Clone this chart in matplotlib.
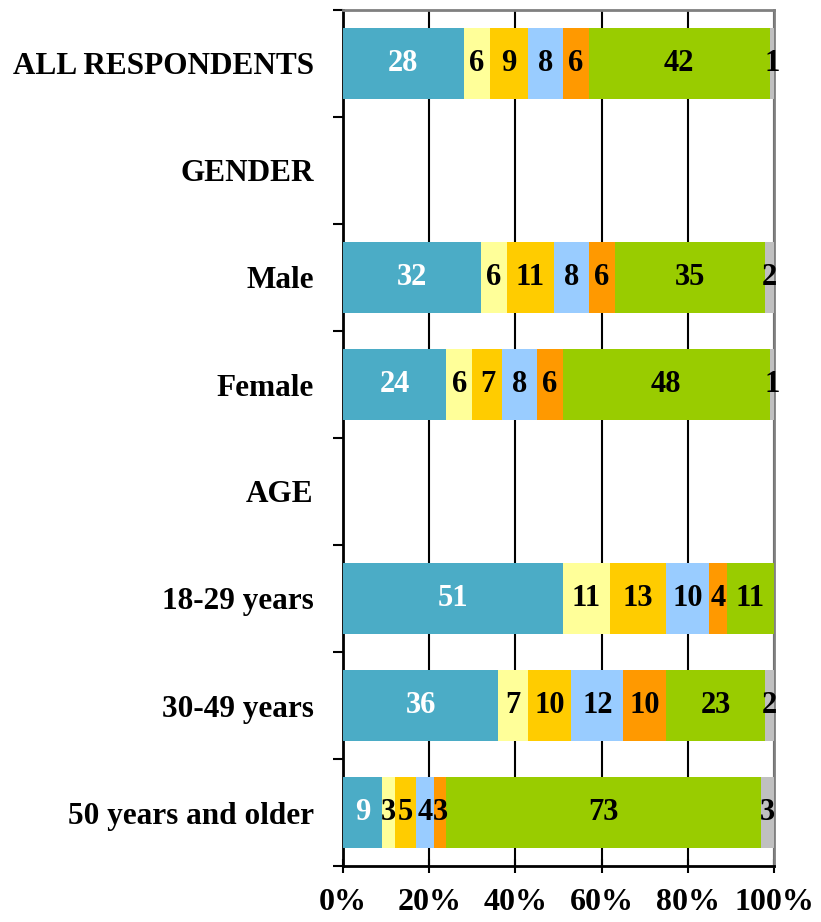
import matplotlib.pyplot as plt
import numpy as np

# categories top to bottom ("GENDER"/"AGE" are section headers without bars)
categories = ["ALL RESPONDENTS", "GENDER", "Male", "Female", "AGE",
              "18-29 years", "30-49 years", "50 years and older"]
has_bar = [True, False, True, True, False, True, True, True]

# segment values per row (percent)
seg1 = [28, 0, 32, 24, 0, 51, 36, 9]
seg2 = [6, 0, 6, 6, 0, 11, 7, 3]
seg3 = [9, 0, 11, 7, 0, 13, 10, 5]
seg4 = [8, 0, 8, 8, 0, 10, 12, 4]
seg5 = [6, 0, 6, 6, 0, 4, 10, 3]
seg6 = [42, 0, 35, 48, 0, 11, 23, 73]
seg7 = [1, 0, 2, 1, 0, 0, 2, 3]

xticks = [0, 20, 40, 60, 80, 100]
xticklabels = ["0%", "20%", "40%", "60%", "80%", "100%"]

colors = ["#4BACC6", "#FFFF99", "#FFCC00", "#99CCFF", "#FF9900", "#99CC00", "#C0C0C0"]
text_colors = ["white", "black", "black", "black", "black", "black", "black"]

plt.rcParams['font.family'] = ['Liberation Serif', 'DejaVu Serif']
plt.rcParams['font.weight'] = 'bold'

fig = plt.figure(figsize=(8.21, 9.22), dpi=100)
ax = fig.add_axes([343 / 821, 1 - 866 / 922, 431 / 821, 856 / 922])

series = [seg1, seg2, seg3, seg4, seg5, seg6, seg7]
data = np.array(series, dtype=float)
totals = data.sum(axis=0)
totals[totals == 0] = 1
pct = data / totals * 100

n = len(categories)
y = np.arange(n)
left = np.zeros(n)
for i in range(len(series)):
    ax.barh(y, pct[i], left=left, height=0.67, color=colors[i],
            edgecolor='none', zorder=3)
    for j in range(n):
        if has_bar[j] and data[i, j] > 0:
            ax.text(left[j] + pct[i, j] / 2, y[j], str(int(data[i, j])),
                    ha='center', va='center', fontsize=22, fontweight='bold',
                    color=text_colors[i], zorder=4)
    left += pct[i]

ax.set_xlim(0, 100)
ax.set_ylim(n - 0.5, -0.5)

ax.set_yticks(y)
ax.set_yticklabels(categories, fontsize=22.5, fontweight='bold')
ax.set_yticks(np.arange(n + 1) - 0.5, minor=True)
ax.tick_params(axis='y', which='major', length=0, pad=21)
ax.tick_params(axis='y', which='minor', length=7, width=1.5, direction='out', color='black')

ax.set_xticks(xticks)
ax.set_xticklabels(xticklabels, fontsize=23, fontweight='bold')
ax.tick_params(axis='x', length=10, width=1.5, direction='inout', pad=11)

ax.grid(axis='x', color='black', linewidth=1.5, zorder=1)
ax.set_axisbelow(True)

ax.spines['left'].set_linewidth(2)
ax.spines['bottom'].set_linewidth(2)
ax.spines['top'].set_color('#808080')
ax.spines['right'].set_color('#808080')
ax.spines['top'].set_linewidth(2)
ax.spines['right'].set_linewidth(2)

fig.savefig("out.png", dpi=100)
